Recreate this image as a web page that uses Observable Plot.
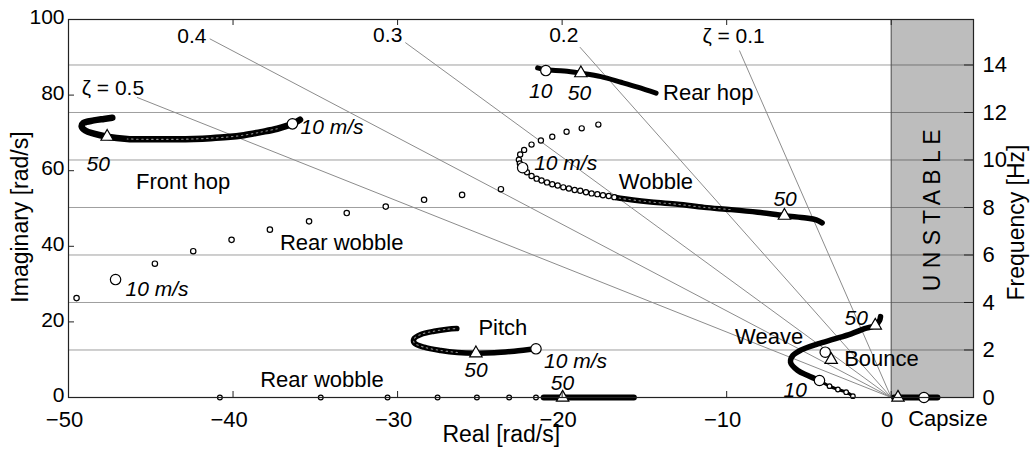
<!DOCTYPE html>
<html><head><meta charset="utf-8">
<script src="https://cdn.jsdelivr.net/npm/d3@7"></script>
<script src="https://cdn.jsdelivr.net/npm/@observablehq/plot@0.6"></script>
<style>body{margin:0;background:#fff;} svg{display:block;}</style>
</head><body><div id="chart"></div>
<script>
// ---- tick values ----
const xTicks = [-50, -40, -30, -20, -10, 0];
const yTicks = [0, 20, 40, 60, 80, 100];
const hzTicks = [0, 2, 4, 6, 8, 10, 12, 14];

// ---- constant damping lines: zeta and imaginary part at the drawn end ----
const zetaValues = [0.1, 0.2, 0.3, 0.4, 0.5];
const zetaImagEnd = [91.8, 92.7, 93.9, 94.9, 79.4];
const zetaLabels = [
  {text: "ζ = 0.1", re: -9.58, im: 95.5},
  {text: "0.2", re: -19.9, im: 95.8},
  {text: "0.3", re: -30.6, im: 95.8},
  {text: "0.4", re: -42.5, im: 95.6},
  {text: "ζ = 0.5", re: -47.3, im: 81.9}
];

// ---- eigenvalue loci [real, imag] (rad/s) ----
const frontHop = [[-35.93,73.5],[-36.39,72.4],[-37.31,71.1],[-38.32,70.2],[-39.34,69.4],[-40.35,68.9],[-41.36,68.6],[-42.38,68.4],[-43.39,68.3],[-44.40,68.3],[-45.42,68.3],[-46.43,68.4],[-47.65,69.0],[-48.46,69.8],[-48.97,70.6],[-49.2,71.7],[-49.1,72.6],[-48.46,73.3],[-47.85,73.7],[-47.34,74.0]];
const rearHop = [[-21.49,87.2],[-20.99,86.7],[-19.87,86.4],[-18.86,85.8],[-17.64,84.9],[-16.42,83.4],[-15.41,82.1],[-14.29,80.5]];
const rearWobbleUpper = [[-49.51,26.3],[-44.75,35.4],[-42.42,38.7],[-40.09,41.7],[-37.76,44.4],[-35.38,46.6],[-33.09,48.8],[-30.72,50.5],[-28.39,52.3],[-26.08,53.6],[-23.72,55.1]];
const wobbleHook = [[-17.80,72.2],[-18.81,71.2],[-19.73,70.3],[-20.60,69.0],[-21.29,68.0],[-21.86,66.9],[-22.31,65.5],[-22.55,64.3],[-22.63,62.9],[-22.57,61.9]];
const wobbleChain = [[-22.14,59.6],[-21.86,58.6],[-21.55,57.9],[-21.25,57.4],[-20.92,56.9],[-20.60,56.4],[-20.27,56.1],[-19.93,55.6],[-19.59,55.3],[-19.24,54.9],[-18.90,54.7],[-18.55,54.3],[-18.21,54.0],[-17.86,53.8],[-17.52,53.5],[-17.17,53.3],[-16.83,53.0]];
const wobbleDense = [[-16.83,53.0],[-16.48,52.7],[-14.60,51.7],[-12.97,51.1],[-11.37,50.3],[-9.73,49.7],[-8.11,49.0],[-6.49,48.1],[-5.17,47.5],[-4.56,47.0],[-4.20,46.2]];
const pitch = [[-21.59,12.88],[-22.91,12.25],[-24.13,11.83],[-25.24,11.72],[-26.36,11.90],[-27.37,12.43],[-28.39,13.31],[-28.99,14.47],[-29.01,15.5],[-28.59,16.67],[-27.78,17.54],[-26.96,18.07],[-26.40,18.25]];
const weaveLow = [[-2.33,0.34],[-2.74,1.40],[-3.24,2.12],[-3.75,3.0],[-4.36,4.5]];
const weave = [[-4.36,4.5],[-5.07,5.82],[-5.68,7.14],[-6.12,9.34],[-5.98,11.1],[-5.47,12.6],[-4.46,14.2],[-3.44,15.5],[-2.43,16.85],[-1.62,18.2],[-0.97,19.05],[-0.71,20.4],[-0.65,21.4]];
const rearWobbleAxisDots = [-40.80, -34.67, -30.61, -27.57, -25.18, -23.22, -21.59];
const rearWobbleAxisDense = [-21.09, -15.61];
const capsizeDense = [0.2, 2.84];

// ---- speed markers: 10 m/s (circle) and 50 m/s (triangle) ----
const tenMs = [[-36.39,72.4],[-47.14,31.2],[-22.40,60.8],[-20.99,86.5],[-21.59,12.88],[-4.36,4.5],[-4.01,11.98],[1.99,0]];
const fiftyMs = [[-47.65,69.0],[-6.49,48.1],[-18.86,85.8],[-25.24,11.72],[-19.97,0],[-0.97,19.05],[-3.65,9.97],[0.41,0]];

// ---- text ----
const modeLabels = [
  {text: "Front hop", re: -43.03, im: 57.1, anchor: "middle"},
  {text: "Rear wobble", re: -33.4, im: 40.9, anchor: "middle"},
  {text: "Rear wobble", re: -34.6, im: 4.76, anchor: "middle"},
  {text: "Wobble", re: -14.3, im: 57.1, anchor: "middle"},
  {text: "Rear hop", re: -13.87, im: 80.6, anchor: "start"},
  {text: "Pitch", re: -23.6, im: 18.4, anchor: "middle"},
  {text: "Weave", re: -7.42, im: 15.9, anchor: "middle"},
  {text: "Bounce", re: -2.86, im: 10.3, anchor: "start"},
  {text: "Capsize", re: 1.03, im: -5.7, anchor: "start"}
];
const speedLabels = [
  {text: "10 m/s", re: -35.9, im: 71.6, anchor: "start"},
  {text: "50", re: -48.2, im: 61.8, anchor: "middle"},
  {text: "10 m/s", re: -46.53, im: 28.7, anchor: "start"},
  {text: "10 m/s", re: -21.7, im: 62.0, anchor: "start"},
  {text: "50", re: -6.45, im: 52.4, anchor: "middle"},
  {text: "10", re: -21.3, im: 81.0, anchor: "middle"},
  {text: "50", re: -18.95, im: 80.6, anchor: "middle"},
  {text: "50", re: -25.24, im: 7.1, anchor: "middle"},
  {text: "10 m/s", re: -21.1, im: 9.66, anchor: "start"},
  {text: "50", re: -19.98, im: 3.84, anchor: "middle"},
  {text: "50", re: -2.13, im: 20.9, anchor: "middle"},
  {text: "10", re: -5.84, im: 1.85, anchor: "middle"}
];
const titles = [
  {text: "Real [rad/s]", re: -23.7, im: -9.9, rotate: 0},
  {text: "Imaginary [rad/s]", re: -52.9, im: 47.75, rotate: -90},
  {text: "Frequency [Hz]", re: 7.62, im: 46.3, rotate: -90}
];
const unstable = {text: "U N S T A B L E", re: 2.5, im: 49.5};

// ---- derived ----
const TWO_PI = 2 * Math.PI;
const hzRad = hzTicks.map(h => h * TWO_PI);
const zetaSegs = zetaValues.map((z, i) => ({x1: 0, y1: 0, x2: -zetaImagEnd[i] * z / Math.sqrt(1 - z * z), y2: zetaImagEnd[i]}));
const W = 1034, H = 450, mL = 68, mR = 61, mT = 19, mB = 53;
const fw = W - mL - mR, fh = H - mT - mB;
const font = "Liberation Sans, Arial, Helvetica, sans-serif";

const dense = (arr, w = 5.5) => Plot.line(arr, {x: d => d[0], y: d => d[1], stroke: "black", strokeWidth: w, curve: "catmull-rom", strokeLinecap: "round", strokeLinejoin: "round"});
const speckle = (arr) => Plot.line(arr, {x: d => d[0], y: d => d[1], stroke: "white", strokeOpacity: 0.55, strokeWidth: 1.1, strokeDasharray: "1.5 3.5", curve: "catmull-rom"});
const openDots = (arr, r = 2.6) => Plot.dot(arr, {x: d => d[0], y: d => d[1], r, stroke: "black", fill: "white", strokeWidth: 1.2});
const labelMarks = (arr, opts) => ["start", "middle", "end"].map(a =>
  Plot.text(arr.filter(d => d.anchor === a), {x: "re", y: "im", text: "text", textAnchor: a, lineAnchor: "middle", clip: false, ...opts}));

const chart = Plot.plot({
  width: W, height: H,
  marginLeft: mL, marginRight: mR, marginTop: mT, marginBottom: mB,
  style: {fontSize: "22px", fontFamily: font, color: "black", background: "white", overflow: "visible"},
  x: {domain: [-50, 5], axis: null},
  y: {domain: [0, 100], axis: null},
  marks: [
    Plot.rect([0], {x1: 0, x2: 5, y1: 0, y2: 100, fill: "#bdbdbd"}),
    Plot.ruleY(hzRad.slice(1), {y: d => d, x1: -50, x2: 5, stroke: "black", strokeOpacity: 0.38, strokeWidth: 1}),
    Plot.link(zetaSegs, {x1: "x1", y1: "y1", x2: "x2", y2: "y2", stroke: "#8c8c8c", strokeWidth: 1}),
    Plot.ruleX([0], {stroke: "#555", strokeWidth: 1}),
    // loci
    dense(frontHop, 6.5),
    speckle(frontHop.slice(2, 12)),
    dense(rearHop, 5),
    dense(pitch, 5.5),
    speckle(pitch.slice(4)),
    dense(wobbleDense, 5.5),
    speckle(wobbleDense.slice(0, 6)),
    Plot.line(wobbleChain, {x: d => d[0], y: d => d[1], stroke: "black", strokeWidth: 1, curve: "catmull-rom"}),
    openDots(wobbleChain, 2.6),
    openDots(wobbleHook, 2.6),
    openDots(rearWobbleUpper, 2.7),
    dense(weave, 5.5),
    Plot.line(weaveLow, {x: d => d[0], y: d => d[1], stroke: "black", strokeWidth: 3, curve: "catmull-rom"}),
    openDots(weaveLow, 2.3),
    Plot.ruleY([0], {x1: rearWobbleAxisDense[0], x2: rearWobbleAxisDense[1], stroke: "black", strokeWidth: 6, strokeLinecap: "round"}),
    Plot.ruleY([0], {x1: capsizeDense[0], x2: capsizeDense[1], stroke: "black", strokeWidth: 6, strokeLinecap: "round"}),
    Plot.dot(rearWobbleAxisDots, {x: d => d, y: 0, r: 2.4, stroke: "black", fill: "white", strokeWidth: 1.2}),
    Plot.dot(tenMs, {x: d => d[0], y: d => d[1], r: 5.2, stroke: "black", fill: "white", strokeWidth: 1.2}),
    Plot.dot(fiftyMs, {x: d => d[0], y: d => d[1], symbol: "triangle", r: 4.6, stroke: "black", fill: "white", strokeWidth: 1.2}),
    // frame & ticks
    Plot.frame({stroke: "#222", strokeWidth: 1.2}),
    Plot.tickX(xTicks, {x: d => d, insetTop: fh - 6, stroke: "#222"}),
    Plot.tickX(xTicks, {x: d => d, insetBottom: fh - 6, stroke: "#222"}),
    Plot.tickY(yTicks, {y: d => d, insetRight: fw - 6, stroke: "#222"}),
    Plot.tickY(hzRad, {y: d => d, insetLeft: fw - 9, stroke: "#222"}),
    // axes labels
    Plot.axisX({ticks: xTicks, tickSize: 0, tickPadding: 14, label: null, fontSize: 22, dx: -4}),
    Plot.axisY({ticks: yTicks, tickSize: 0, tickPadding: 4, label: null, fontSize: 21, dy: -2}),
    Plot.axisY({anchor: "right", ticks: hzRad, tickFormat: d => String(Math.round(d / TWO_PI)), tickSize: 0, tickPadding: 9, label: null, fontSize: 22}),
    // texts
    Plot.text(zetaLabels, {x: "re", y: "im", text: "text", fontSize: 21, lineAnchor: "middle", clip: false}),
    ...labelMarks(modeLabels, {fontSize: 22}),
    ...labelMarks(speedLabels, {fontSize: 21, fontStyle: "italic"}),
    Plot.text(titles, {x: "re", y: "im", text: "text", rotate: "rotate", fontSize: 23, lineAnchor: "middle", clip: false}),
    Plot.text([unstable], {x: "re", y: "im", text: "text", rotate: -90, fontSize: 23, lineAnchor: "middle", clip: false})
  ]
});
document.getElementById("chart").appendChild(chart);
</script>
</body></html>
